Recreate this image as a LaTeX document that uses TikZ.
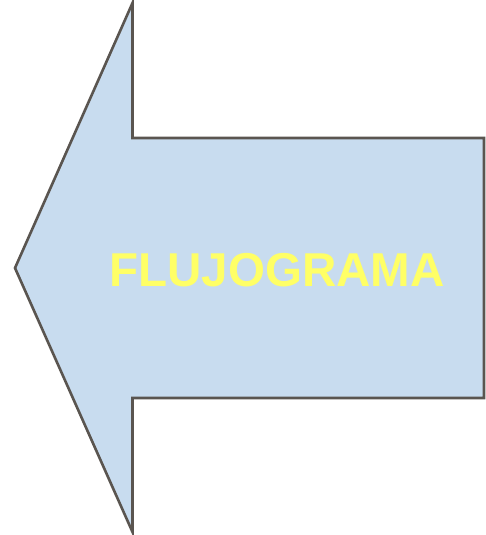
\documentclass[tikz,border=0pt]{standalone}
\usepackage{fontspec}
\setmainfont{Liberation Sans}
\usepackage{tikz}
\usetikzlibrary{positioning,calc}
\definecolor{flblue}{HTML}{C8DCEF}
\definecolor{flgray}{HTML}{5A5550}
\definecolor{flyellow}{HTML}{FFFF66}
\tikzset{
  arrowshape/.style={draw=flgray,fill=flblue,line width=2.6pt,line join=miter},
  titletext/.style={text=flyellow,font=\fontsize{47.5}{50}\selectfont\bfseries,inner sep=0pt},
}
\begin{document}
\begin{tikzpicture}[x=1pt,y=1pt]
  \useasboundingbox (0,0) rectangle (485,535);
  % left arrow
  \coordinate (tip) at (15,267);
  \coordinate (headtop) at (132.5,532);
  \coordinate (headbot) at (132.5,3);
  \draw[arrowshape] (tip) -- (headtop) -- (132.5,397) -- (484,397)
    -- (484,137) -- (132.5,137) -- (headbot) -- cycle;
  \node[titletext] (title) at (277,265) {FLUJOGRAMA};
\end{tikzpicture}
\end{document}
